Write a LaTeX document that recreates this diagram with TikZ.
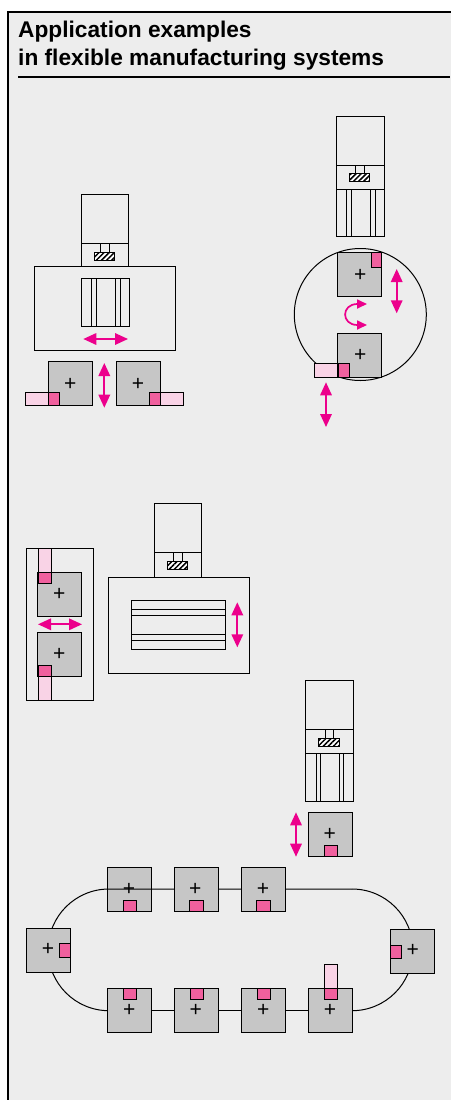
\documentclass[tikz,border=0pt]{standalone}
\usepackage{fontspec}
\setmainfont{Liberation Sans}
\newfontfamily\plusfont{Liberation Sans}
\usetikzlibrary{arrows.meta,patterns.meta}
\definecolor{panelbg}{HTML}{EDEDED}
\definecolor{sqgrey}{HTML}{C6C6C6}
\definecolor{mag}{HTML}{EC008C}
\definecolor{pinkbox}{HTML}{F0609E}
\definecolor{palebox}{HTML}{F9D3E6}
\tikzset{
  x=1pt,y=-1pt,
  ln/.style={draw=black,line width=1pt},
  workpiece/.style={ln,fill=sqgrey,rectangle,inner sep=0pt,outer sep=0pt,minimum width=44pt,minimum height=44pt},
  plusmark/.style={inner sep=0pt,outer sep=0pt,font=\plusfont\fontsize{21}{21}\selectfont,text=black},
  darkpink/.style={ln,fill=pinkbox},
  lightpink/.style={ln,fill=palebox},
  hatchbox/.style={draw=black,line width=1pt,fill=white,postaction={pattern={Lines[angle=45,distance=3.6pt,line width=1.5pt]},pattern color=black}},
  dbl/.style={draw=mag,fill=mag,line width=1.7pt,{Triangle[length=13pt,width=11.5pt]}-{Triangle[length=13pt,width=11.5pt]},shorten <=0pt,shorten >=0pt},
  curv/.style={draw=mag,fill=none,line width=1.7pt,{Triangle[length=10pt,width=9pt,fill=mag]}-{Triangle[length=10pt,width=9pt,fill=mag]}},
  track/.style={draw=black,line width=1pt},
  titletext/.style={anchor=base west,inner sep=0pt,font=\bfseries\fontsize{22.7}{22.7}\selectfont},
}
% head of a machine: x-left, x-right, top, divider, bottom; hatch left, hatch top
\newcommand{\machinehead}[7]{%
  \draw[ln] (#1,#3) rectangle (#2,#5);
  \draw[ln] (#1,#4) -- (#2,#4);
  \draw[ln] (#6+6.4,#4) -- (#6+6.4,#7) (#6+15,#4) -- (#6+15,#7);
  \draw[hatchbox] (#6,#7) rectangle (#6+20.6,#7+8);
}
\newcommand{\wpiece}[3]{%
  \node[workpiece] (#1) at (#2,#3) {};
}
\newcommand{\plusat}[3]{\node[plusmark] (#1) at (#2,#3) {+};}
\newcommand{\dblarrow}[5]{%
  \coordinate (#1a) at (#2,#3);
  \coordinate (#1b) at (#4,#5);
  \draw[dbl] (#1a) -- (#1b);
}
\begin{document}
\begin{tikzpicture}
\path[use as bounding box] (0,0) rectangle (451,1100);
\fill[white] (0,0) rectangle (451,1100);
\fill[panelbg] (8,11.5) rectangle (451,1100);
\draw[draw=black,line width=2pt] (8,1100) -- (8,11.5) -- (451,11.5);
\node[titletext] (title1) at (18,37) {Application examples};
\node[titletext] (title2) at (18,65) {in flexible manufacturing systems};
\draw[line width=1.9pt] (18,77) -- (450,77);

% ---------- machine 1
\machinehead{81.3}{128.7}{194.7}{243.7}{266.7}{94.3}{252.3}
\draw[ln] (34.7,266.7) rectangle (175.3,350.7);
\draw[ln] (81.3,278.7) rectangle (129.3,326.7);
\draw[ln] (91.7,278.7) -- (91.7,326.7) (96.7,278.7) -- (96.7,326.7) (115.3,278.7) -- (115.3,326.7) (120,278.7) -- (120,326.7);
\dblarrow{a1}{83.3}{339}{128}{339}
\draw[lightpink] (25,392.3) rectangle (48.3,405.7);
\draw[lightpink] (160,392.3) rectangle (183.3,405.7);
\wpiece{s1}{70.3}{383.7}
\wpiece{s2}{138.2}{383.7}
\draw[darkpink] (48.3,392.3) rectangle (59.3,405.7);
\draw[darkpink] (149.3,392.3) rectangle (160.2,405.7);
\plusat{p1}{70.3}{384.3}
\plusat{p2}{138}{384.3}
\dblarrow{a2}{104.3}{363}{104.3}{407.7}

% ---------- machine 2
\machinehead{336.3}{384}{116}{165}{236.3}{349.3}{173.7}
\draw[ln] (336.3,189) -- (384,189);
\draw[ln] (346.3,189) -- (346.3,236.3) (351.7,189) -- (351.7,236.3) (370.3,189) -- (370.3,236.3) (375,189) -- (375,236.3);
\node[draw=black,line width=1pt,circle,minimum size=132pt,inner sep=0pt,outer sep=0pt] (c1) at (360.3,314.5) {};
\draw[lightpink] (314.7,363.7) rectangle (338,377.3);
\wpiece{s3}{359.9}{274.7}
\wpiece{s4}{359.9}{355.2}
\draw[darkpink] (371.7,252.7) rectangle (381.9,267.3);
\draw[darkpink] (338,363.7) rectangle (349,377.3);
\plusat{p3}{360.3}{275}
\plusat{p4}{360.3}{355}
\dblarrow{a3}{396.7}{269}{396.7}{313.3}
\dblarrow{a4}{326}{382.3}{326}{427}
\coordinate (r1) at (367,304);
\coordinate (r2) at (367,325);
\draw[curv] (r1) .. controls (341,304) and (341,325) .. (r2);

% ---------- machine 3
\machinehead{154.3}{201.3}{503.7}{552.3}{577}{167.3}{561}
\draw[ln] (108.3,577) rectangle (249.3,673.7);
\draw[ln] (131.7,600.7) rectangle (225.3,649.7);
\draw[ln] (131.7,609.7) -- (225.3,609.7) (131.7,615) -- (225.3,615) (131.7,634.7) -- (225.3,634.7) (131.7,640) -- (225.3,640);
\dblarrow{a5}{237.3}{602.3}{237.3}{647.3}
\draw[ln] (26,548.3) rectangle (93.7,700.3);
\draw[lightpink] (38,548.3) rectangle (51.3,572);
\draw[lightpink] (38,676.3) rectangle (51.3,700.3);
\wpiece{s5}{59.9}{594}
\wpiece{s6}{59.9}{654.3}
\draw[darkpink] (38,572) rectangle (51.3,583);
\draw[darkpink] (38,665.7) rectangle (51.3,676.3);
\plusat{p5}{59.3}{594.3}
\plusat{p6}{59.3}{654.3}
\dblarrow{a6}{38}{624.3}{82}{624.3}

% ---------- machine 4
\machinehead{305.7}{353.3}{680.7}{729.7}{801}{318.7}{738.3}
\draw[ln] (305.7,753.7) -- (353.3,753.7);
\draw[ln] (316.3,753.7) -- (316.3,801) (320.7,753.7) -- (320.7,801) (339.7,753.7) -- (339.7,801) (343.7,753.7) -- (343.7,801);
\wpiece{s7}{330.3}{834.7}
\draw[darkpink] (324,845.7) rectangle (337.3,856.7);
\plusat{p7}{329.7}{834.7}
\dblarrow{a7}{296}{812.3}{296}{856.7}

% ---------- loop
\coordinate (lt) at (109,889);
\coordinate (rt) at (352,889);
\draw[track] (lt) arc[start angle=-90,delta angle=-180,radius=60.85];
\draw[track] (rt) arc[start angle=-90,delta angle=180,radius=60.85];
\wpiece{t1}{129.5}{889.1}
\wpiece{t2}{196.3}{889.1}
\wpiece{t3}{263.1}{889.1}
\wpiece{l1}{48.3}{950}
\wpiece{r1s}{412.3}{951.3}
\wpiece{b1}{129.7}{1010.3}
\wpiece{b2}{196.3}{1010.3}
\wpiece{b3}{263.5}{1010.3}
\wpiece{b4}{330.3}{1010.3}
\draw[track] (t1.west) -- (t2.west) (t2.east) -- (t3.west) (t3.east) -- (rt);
\draw[track] (b1.east) -- (b2.west) (b2.east) -- (b3.west) (b3.east) -- (b4.west);
\draw[darkpink] (123.3,900.3) rectangle (136.7,911.1);
\draw[darkpink] (189.7,900.3) rectangle (203.7,911.1);
\draw[darkpink] (256.7,900.3) rectangle (270.3,911.1);
\draw[darkpink] (59,943.7) rectangle (70.3,957);
\draw[darkpink] (390.3,945) rectangle (401.7,958.3);
\draw[darkpink] (123.3,988.3) rectangle (136.7,999.3);
\draw[darkpink] (190,988.3) rectangle (203.3,999.3);
\draw[darkpink] (257.3,988.3) rectangle (270.3,999.3);
\draw[lightpink] (324.3,964.7) rectangle (337.3,988.3);
\draw[darkpink] (324.3,988.3) rectangle (337.3,999.3);
\plusat{p8}{129}{889}
\plusat{p9}{195.3}{889}
\plusat{p10}{263}{889}
\plusat{p11}{48}{949.7}
\plusat{p12}{412.7}{950.7}
\plusat{p13}{129.3}{1010.7}
\plusat{p14}{195.7}{1010.7}
\plusat{p15}{263.3}{1010.7}
\plusat{p16}{330}{1010.7}
\end{tikzpicture}
\end{document}
